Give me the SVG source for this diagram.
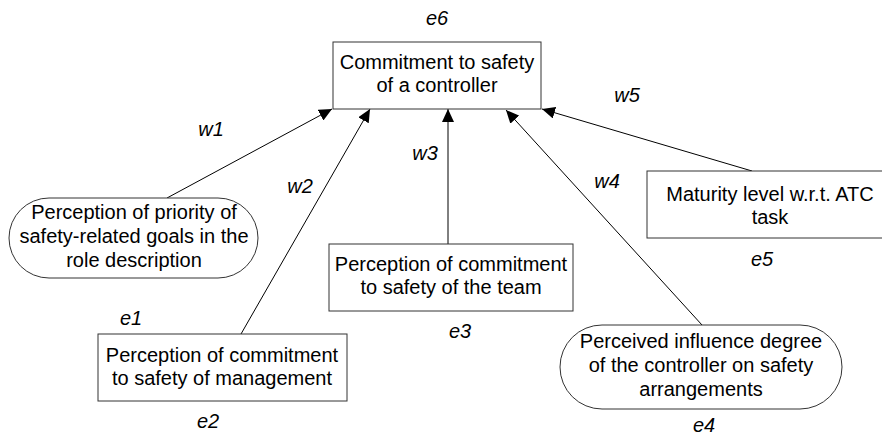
<svg xmlns="http://www.w3.org/2000/svg" width="882" height="442" viewBox="0 0 882 442">
<defs>
<style>
.box{fill:#fff;stroke:#333;stroke-width:1}
.t{font-family:"Liberation Sans",Arial,sans-serif;font-size:20px;fill:#000;text-anchor:middle}
.lb{font-family:"Liberation Sans",Arial,sans-serif;font-size:20px;font-style:italic;fill:#000;text-anchor:middle}
.c{stroke:#000;stroke-width:1;fill:none;marker-end:url(#ah)}
</style>
<marker id="ah" markerUnits="userSpaceOnUse" markerWidth="13" markerHeight="12" refX="13" refY="6" orient="auto">
<path d="M0,0 L13,6 L0,12 z" fill="#000"/>
</marker>
</defs>
<rect width="882" height="442" fill="#fff"/>
<g id="connectors">
<line class="c" x1="167" y1="198" x2="332" y2="109"/>
<line class="c" x1="241" y1="334" x2="370" y2="109"/>
<line class="c" x1="448" y1="244" x2="448" y2="109"/>
<line class="c" x1="702" y1="325" x2="506" y2="110"/>
<line class="c" x1="752" y1="171" x2="542" y2="109"/>
</g>
<g id="e6">
<rect class="box" x="333" y="42" width="208" height="67"/>
<text class="t" x="437" y="69">Commitment to safety</text>
<text class="t" x="437" y="92">of a controller</text>
</g>
<g id="e1">
<rect class="box" x="9" y="198" width="249" height="80" rx="40" ry="40"/>
<text class="t" x="134" y="219">Perception of priority of</text>
<text class="t" x="134" y="243">safety-related goals in the</text>
<text class="t" x="134" y="267">role description</text>
</g>
<g id="e2">
<rect class="box" x="98" y="334" width="249" height="67"/>
<text class="t" x="222" y="362">Perception of commitment</text>
<text class="t" x="222" y="385">to safety of management</text>
</g>
<g id="e3">
<rect class="box" x="329" y="244" width="244" height="67"/>
<text class="t" x="451" y="271">Perception of commitment</text>
<text class="t" x="451" y="294">to safety of the team</text>
</g>
<g id="e4">
<rect class="box" x="560" y="325" width="282" height="84" rx="42" ry="42"/>
<text class="t" x="701" y="348">Perceived influence degree</text>
<text class="t" x="701" y="372">of the controller on safety</text>
<text class="t" x="701" y="396">arrangements</text>
</g>
<g id="e5">
<rect class="box" x="647" y="171" width="246" height="67"/>
<text class="t" x="770" y="201">Maturity level w.r.t. ATC</text>
<text class="t" x="770" y="224">task</text>
</g>
<g id="labels">
<text class="lb" x="437" y="25">e6</text>
<text class="lb" x="211" y="136">w1</text>
<text class="lb" x="300" y="193">w2</text>
<text class="lb" x="425" y="160">w3</text>
<text class="lb" x="607" y="188">w4</text>
<text class="lb" x="627" y="102">w5</text>
<text class="lb" x="131" y="325">e1</text>
<text class="lb" x="208" y="428">e2</text>
<text class="lb" x="460" y="338">e3</text>
<text class="lb" x="704" y="432">e4</text>
<text class="lb" x="762" y="266">e5</text>
</g>
</svg>
